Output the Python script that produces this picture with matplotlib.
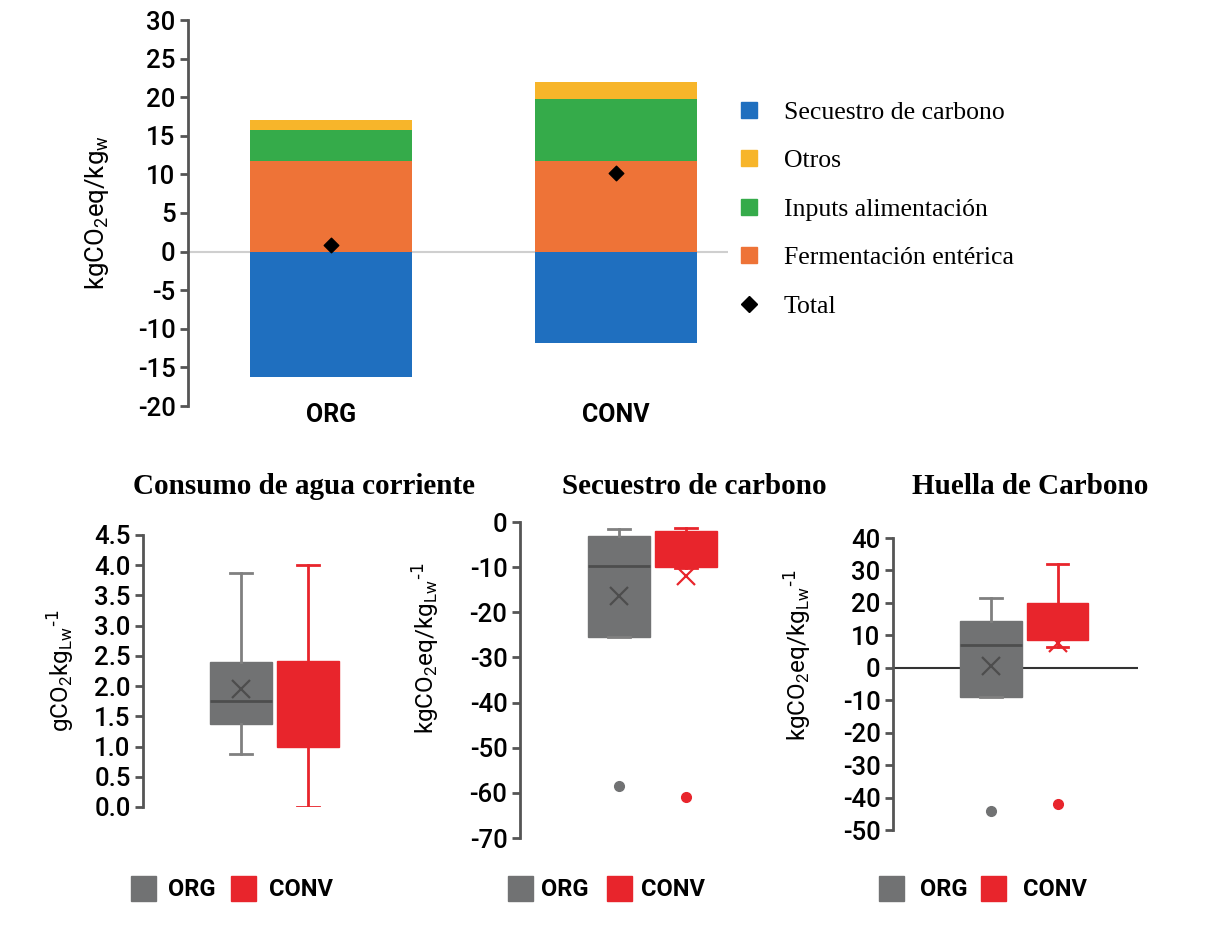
import matplotlib as mpl
mpl.use("Agg")
import matplotlib.pyplot as plt
from matplotlib.lines import Line2D

plt.rcParams['font.family'] = ['Roboto', 'DejaVu Sans']
plt.rcParams['font.weight'] = 'medium'
plt.rcParams['mathtext.default'] = 'regular'
plt.rcParams['axes.unicode_minus'] = False

# top stacked chart
systems = ['ORG', 'CONV']
secuestro = [-16.2, -11.8]
fermentacion = [11.8, 11.8]
inputs_alim = [3.9, 8.0]
otros = [1.4, 2.2]
total = [0.9, 10.2]

# box plot summaries: whislo, q1, med, q3, whishi, mean, fliers
agua = {
    'ORG': (0.87, 1.37, 1.75, 2.40, 3.87, 1.95, []),
    'CONV': (0.0, 1.0, 1.80, 2.42, 4.0, 1.80, []),
}
secu = {
    'ORG': (-25.5, -25.5, -9.8, -3.0, -1.5, -16.3, [-58.5]),
    'CONV': (-10.3, -10.0, -5.0, -2.0, -1.3, -12.0, [-61.0]),
}
huella = {
    'ORG': (-9.0, -9.0, 7.0, 14.5, 21.5, 0.5, [-44.0]),
    'CONV': (6.5, 8.5, 14.0, 20.0, 32.0, 7.5, [-42.0]),
}

c_blue = '#1f6fbf'
c_orange = '#ee7337'
c_green = '#35ab4a'
c_yellow = '#f7b52a'
c_grey = '#717273'
c_red = '#e8252c'
c_axis = '#555555'

W, H = 1227, 934
fig = plt.figure(figsize=(W / 100, H / 100), dpi=100)


def px_axes(x0, y0, x1, y1):
    return fig.add_axes([x0 / W, 1 - y1 / H, (x1 - x0) / W, (y1 - y0) / H])


def style_axis(ax):
    for s in ['top', 'right', 'bottom']:
        ax.spines[s].set_visible(False)
    ax.spines['left'].set_color(c_axis)
    ax.spines['left'].set_linewidth(2)
    ax.tick_params(axis='y', direction='out', length=6, width=2, color=c_axis,
                   labelsize=18.5, pad=3)


# ---- top chart
ax = px_axes(188, 20, 728, 406)
style_axis(ax)
x = range(len(systems))
ax.bar(x, secuestro, width=0.57, color=c_blue)
ax.bar(x, fermentacion, width=0.57, color=c_orange)
b2 = [f for f in fermentacion]
ax.bar(x, inputs_alim, width=0.57, bottom=b2, color=c_green)
b3 = [f + i for f, i in zip(fermentacion, inputs_alim)]
ax.bar(x, otros, width=0.57, bottom=b3, color=c_yellow)
ax.scatter(x, total, marker='D', s=55, color='black', zorder=5)
ax.axhline(0, color='#cfcfcf', lw=1.5, zorder=0.5)
ax.set_xlim(-0.502, 1.393)
ax.set_ylim(-20, 30)
ax.set_yticks(range(-20, 31, 5))
ax.set_xticks(list(x))
ax.set_xticklabels(systems, fontsize=18, fontweight='bold')
ax.tick_params(axis='x', length=0, pad=-2)
ax.set_ylabel('kgCO$_2$eq/kg$_w$', fontsize=18.5)
ax.yaxis.set_label_coords(-0.142, 0.5)

handles = [
    Line2D([], [], ls='none', marker='s', ms=11, color=c_blue),
    Line2D([], [], ls='none', marker='s', ms=11, color=c_yellow),
    Line2D([], [], ls='none', marker='s', ms=11, color=c_green),
    Line2D([], [], ls='none', marker='s', ms=11, color=c_orange),
    Line2D([], [], ls='none', marker='D', ms=8, color='black'),
]
labels = ['Secuestro de carbono', 'Otros', 'Inputs alimentación',
          'Fermentación entérica', 'Total']
fig.legend(handles, labels, loc='upper left', bbox_to_anchor=(736 / W, 1 - 101 / H),
           frameon=False, prop={'family': 'Liberation Serif', 'size': 18.5, 'weight': 'normal'},
           handlelength=1.0, handletextpad=0.85, labelspacing=0.99,
           borderpad=0, borderaxespad=0)


# ---- bottom box plots
def draw_box(ax, data):
    stats = []
    for k in ['ORG', 'CONV']:
        lo, q1, med, q3, hi, mean, fl = data[k]
        stats.append(dict(whislo=lo, q1=q1, med=med, q3=q3, whishi=hi,
                          mean=mean, fliers=fl, label=k))
    for i, (st, col, dark) in enumerate(zip(stats, [c_grey, c_red],
                                            ['#4d4d4d', c_red])):
        wcol = '#808080' if col == c_grey else col
        ax.bxp([st], positions=[i + 1], widths=0.93, patch_artist=True,
               showmeans=True, capwidths=0.32,
               boxprops=dict(facecolor=col, edgecolor=col, lw=1),
               medianprops=dict(color=dark, lw=2),
               whiskerprops=dict(color=wcol, lw=2),
               capprops=dict(color=wcol, lw=2),
               meanprops=dict(marker='x', markersize=13, mew=1.6,
                              markeredgecolor=dark),
               flierprops=dict(marker='o', markersize=7, markerfacecolor=col,
                               markeredgecolor=col))
    ax.set_xticks([])


titles = ['Consumo de agua corriente', 'Secuestro de carbono', 'Huella de Carbono']
title_x = [304, 694, 1030]
ylab_lw = 'kgCO$_2$eq/kg$_{Lw}$$^{\\text{-1}}$'

a1 = px_axes(143, 535, 413, 807)
style_axis(a1)
draw_box(a1, agua)
a1.set_ylim(0, 4.5)
a1.set_yticks([0.0, 0.5, 1.0, 1.5, 2.0, 2.5, 3.0, 3.5, 4.0, 4.5])
a1.set_yticklabels(['0.0', '0.5', '1.0', '1.5', '2.0', '2.5', '3.0', '3.5', '4.0', '4.5'])
a1.set_xlim(-0.463, 3.567)
a1.set_ylabel('gCO$_2$kg$_{Lw}$$^{\\text{-1}}$', fontsize=17.5)
a1.yaxis.set_label_coords((76 - 143) / 270, 0.5)

a2 = px_axes(520, 522, 790, 838)
style_axis(a2)
draw_box(a2, secu)
a2.set_ylim(-70, 0)
a2.set_yticks(range(-70, 1, 10))
a2.set_xlim(-0.478, 3.552)
a2.set_ylabel(ylab_lw, fontsize=17.5)
a2.yaxis.set_label_coords((441 - 520) / 270, 0.6)

a3 = px_axes(893, 538, 1138, 830)
style_axis(a3)
draw_box(a3, huella)
a3.axhline(0, color='#333333', lw=1.5, zorder=0.5)
a3.set_ylim(-50, 40)
a3.set_yticks(range(-50, 41, 10))
a3.set_xlim(-0.474, 3.21)
a3.set_ylabel(ylab_lw, fontsize=17.5)
a3.yaxis.set_label_coords((813 - 893) / 245, 0.6)

for ax_, t, tx in zip([a1, a2, a3], titles, title_x):
    fig.text(tx / W, 1 - 486 / H, t, ha='center', va='center',
             family='Liberation Serif', fontweight='bold', fontsize=21)

# legend placement per panel: left px, text pad, column spacing
leg_x = [130, 507, 878]
leg_tpad = [0.55, 0.4, 0.72]
leg_cspc = [0.64, 0.76, 0.55]
for lx, tp, cs in zip(leg_x, leg_tpad, leg_cspc):
    hs = [Line2D([], [], ls='none', marker='s', ms=18, color=c_grey),
          Line2D([], [], ls='none', marker='s', ms=18, color=c_red)]
    fig.legend(hs, ['ORG', 'CONV'], loc='center left',
               bbox_to_anchor=(lx / W, 1 - 890 / H), ncol=2, frameon=False,
               prop={'size': 17, 'weight': 'bold'}, handlelength=1.06,
               handletextpad=tp, columnspacing=cs, borderpad=0,
               borderaxespad=0)

fig.savefig('out.png', dpi=100)
